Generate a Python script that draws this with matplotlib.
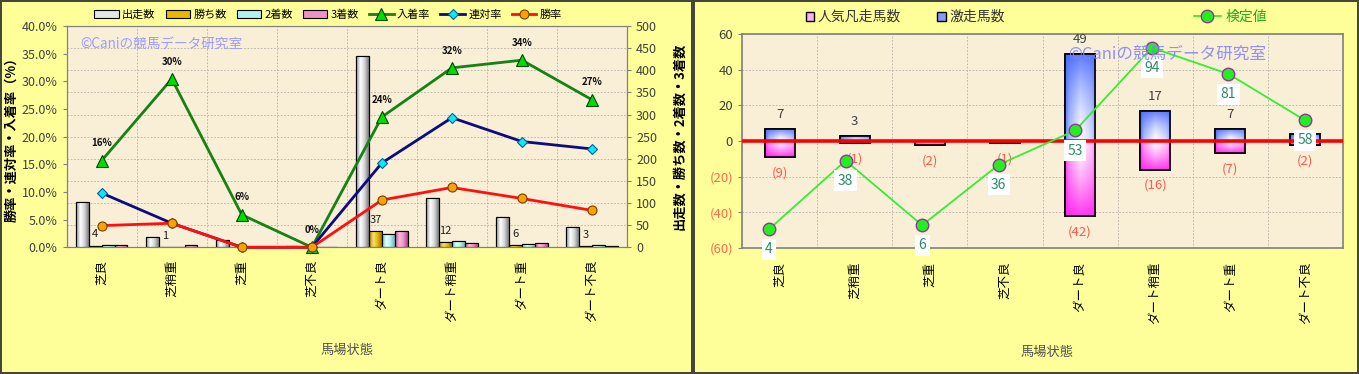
import numpy as np
import matplotlib
matplotlib.use('Agg')
import matplotlib.pyplot as plt
from matplotlib.colors import LinearSegmentedColormap, to_rgb
from matplotlib.patches import Rectangle, Patch
from matplotlib.ticker import FuncFormatter, MultipleLocator

plt.rcParams['font.family'] = ['Noto Sans CJK JP', 'DejaVu Sans']

# データ
categories = ['芝良', '芝稍重', '芝重', '芝不良', 'ダート良', 'ダート稍重', 'ダート重', 'ダート不良']
runs = [102, 23, 17, 2, 433, 111, 68, 45]      # 出走数
wins = [4, 1, 0, 0, 37, 12, 6, 3]              # 勝ち数
seconds = [6, 0, 0, 0, 29, 14, 7, 5]           # 2着数
thirds = [6, 6, 1, 0, 36, 10, 10, 4]           # 3着数

gekisou = [7, 3, 0, 0, 49, 17, 7, 4]           # 激走馬数
bonsou = [9, 1, 2, 1, 42, 16, 7, 2]            # 人気凡走馬数
kentei = [4, 38, 6, 36, 53, 94, 81, 58]        # 検定値

runs_a = np.array(runs, float)
win_rate = np.array(wins) / runs_a
rentai = (np.array(wins) + np.array(seconds)) / runs_a
fuku = (np.array(wins) + np.array(seconds) + np.array(thirds)) / runs_a

W, H = 1359, 374
fig = plt.figure(figsize=(W / 100, H / 100), dpi=100, facecolor='#46463a')


def fx(px):
    return px / W


def fy(py):
    return 1 - py / H


# 背景パネル
for x0, x1 in [(2, 691), (695, 1357)]:
    fig.add_artist(Rectangle((fx(x0), fy(372)), fx(x1 - x0), 370 / H,
                             transform=fig.transFigure, facecolor='#ffff99',
                             edgecolor='none', zorder=-10))

plot_bg = '#f9eed6'
grid_kw = dict(color='#b4b0a8', ls=(0, (2, 2)), lw=0.6)
x = np.arange(len(categories))


def shade(ax, bars, img_fn):
    for b in bars:
        x0, w = b.get_x(), b.get_width()
        y0, h = b.get_y(), b.get_height()
        if h == 0:
            continue
        lo, hi = min(y0, y0 + h), max(y0, y0 + h)
        im = ax.imshow(img_fn(h > 0), extent=[x0, x0 + w, lo, hi], origin='lower',
                       aspect='auto', interpolation='bilinear',
                       zorder=b.get_zorder() + 0.05)
        im.set_clip_path(b)


def hgrad(colors):
    cmap = LinearSegmentedColormap.from_list('g', colors)
    img = cmap(np.linspace(0, 1, 32))[None, :, :]
    return lambda pos: img


# ---------------- 左グラフ ----------------
axb = fig.add_axes([fx(66.7), fy(247.3), (627 - 66.7) / W, (247.3 - 26) / H])
axb.set_facecolor(plot_bg)
bw = 0.183
bar_series = [
    (runs, '#e4e4e4', ['#8c8c8c', '#ffffff', '#d4d4d4', '#7c7c7c'], '出走数'),
    (wins, '#e8b800', ['#a07c00', '#ffe070', '#e8b800', '#987400'], '勝ち数'),
    (seconds, '#b4f0f0', ['#78c0c0', '#eaffff', '#b4f0f0', '#6cb4b4'], '2着数'),
    (thirds, '#f090c8', ['#b85088', '#ffc0e4', '#f090c8', '#a84880'], '3着数'),
]
handles = []
for k, (vals, fc, grad, lab) in enumerate(bar_series):
    pos = x + (k - 1.5) * bw
    bars = axb.bar(pos, vals, bw, color=fc, edgecolor='black', lw=0.8, zorder=2, label=lab)
    shade(axb, bars, hgrad(grad))
    axb.bar(pos, vals, bw, fill=False, edgecolor='black', lw=0.8, zorder=2.2)
    handles.append(bars)

for i, v in enumerate(wins):
    if v > 0:
        axb.annotate(str(v), (x[i] - 0.5 * bw, v), xytext=(0, 8), textcoords='offset points',
                     ha='center', va='center', fontsize=8, color='#202020', zorder=5)

axb.set_xlim(-0.5, 7.5)
axb.set_ylim(0, 500)
axb.yaxis.set_major_locator(MultipleLocator(50))
axb.set_xticks(x)
axb.set_xticklabels(categories, rotation=90, fontsize=9)
axb.set_xticks(np.arange(-0.5, 8, 1), minor=True)
axb.tick_params(axis='x', which='both', length=0, pad=9)
axb.grid(axis='y', **grid_kw)
axb.grid(axis='x', which='minor', **grid_kw)
axb.set_axisbelow(True)

axl = axb.twinx()
axb.yaxis.tick_right()
axb.yaxis.set_label_position('right')
axl.yaxis.tick_left()
axl.yaxis.set_label_position('left')
axl.set_ylim(0, 0.40)
axl.yaxis.set_major_locator(MultipleLocator(0.05))
axl.yaxis.set_major_formatter(FuncFormatter(lambda v, p: f'{v * 100:.1f}%'))

lf = axl.plot(x, fuku, color='#148214', lw=2, marker='^', ms=8, mfc='#00dd00',
              mec='#004400', mew=0.8, label='入着率', clip_on=False, zorder=4)
lr = axl.plot(x, rentai, color='#0c0c80', lw=2, marker='D', ms=5, mfc='#10e8f0',
              mec='#0060a0', mew=0.8, label='連対率', clip_on=False, zorder=4)
lw_ = axl.plot(x, win_rate, color='#ff1010', lw=2, marker='o', ms=6.5, mfc='#ffa000',
               mec='#704000', mew=0.8, label='勝率', clip_on=False, zorder=4)
for i, v in enumerate(fuku):
    axl.annotate(f'{v * 100:.0f}%', (x[i], v), xytext=(0, 12.5), textcoords='offset points',
                 ha='center', va='center', fontsize=7, fontweight='bold', color='#101010')

for a in (axb, axl):
    for s in a.spines.values():
        s.set_color('#808080')
    a.tick_params(axis='y', labelsize=9, labelcolor='#404040', color='#808080', length=3)

axl.set_ylabel('勝率・連対率・入着率（%）', fontsize=9.5, fontweight='bold')
axl.yaxis.set_label_coords((18 - 66.7) / 560.3, 0.5)
axb.set_ylabel('出走数・勝ち数・2着数・3着数', fontsize=9.5, fontweight='bold')
axb.yaxis.set_label_coords((672 - 66.7) / 560.3, 0.5)

fig.legend(handles=handles + lf + lr + lw_, loc='center', bbox_to_anchor=(fx(328), fy(15)),
           ncol=7, frameon=False, fontsize=8, handlelength=2.2, handleheight=0.7,
           handletextpad=0.3, columnspacing=0.9, borderaxespad=0)
fig.text(fx(80), fy(44), '©Caniの競馬データ研究室', fontsize=9.8, color='#9c9cff', va='center')
fig.text(fx(347), fy(350), '馬場状態', fontsize=9.5, color='#505050', ha='center', va='center')

# ---------------- 右グラフ ----------------
axr = fig.add_axes([fx(742), fy(248), 601 / W, 214 / H])
axr.set_facecolor(plot_bg)
rw = 0.4

blue = np.array(to_rgb('#3f62ff'))
mag = np.array(to_rgb('#ff22ee'))


def grad2d(positive):
    u = np.linspace(0, 1, 40)[None, :]
    v = np.linspace(0, 1, 60)[:, None]
    th = np.interp(u, [0, 0.12, 0.5, 0.85, 1], [0.85, 0.45, 0.0, 0.25, 0.5])
    if positive:
        tv = 0.85 * v ** 1.5
        base = blue
    else:
        tv = 0.9 * (1 - v) ** 1.3
        base = mag
    t = 1 - (1 - th) * (1 - tv)
    img = (1 - t)[..., None] * np.ones(3) + t[..., None] * base
    return np.clip(img, 0, 1)


pos_bars = axr.bar(x, gekisou, rw, color='#8899ff', edgecolor='black', lw=1.2, zorder=2)
neg_bars = axr.bar(x, -np.array(bonsou), rw, color='#ff99ee', edgecolor='black', lw=1.2, zorder=2)
shade(axr, pos_bars, grad2d)
shade(axr, neg_bars, grad2d)
axr.bar(x, gekisou, rw, fill=False, edgecolor='black', lw=1.2, zorder=2.2)
axr.bar(x, -np.array(bonsou), rw, fill=False, edgecolor='black', lw=1.2, zorder=2.2)
axr.axhline(0, color='#ff0000', lw=2.6, zorder=3)

for i in range(len(categories)):
    if gekisou[i] > 0:
        axr.annotate(str(gekisou[i]), (x[i], gekisou[i]), xytext=(0, 10), textcoords='offset points',
                     ha='center', va='center', fontsize=9.5, color='#404040', zorder=4)
    if bonsou[i] > 0:
        axr.annotate(f'({bonsou[i]})', (x[i], -bonsou[i]), xytext=(0, -11.5), textcoords='offset points',
                     ha='center', va='center', fontsize=9.5, color='#ff5a4a', zorder=4)

axr.set_xlim(-0.5, 7.5)
axr.set_ylim(-60, 60)
axr.yaxis.set_major_locator(MultipleLocator(20))
axr.yaxis.set_major_formatter(FuncFormatter(lambda v, p: f'({abs(int(round(v)))})' if v < 0 else f'{int(round(v))}'))
axr.set_xticks(x)
axr.set_xticklabels(categories, rotation=90, fontsize=9)
axr.set_xticks(np.arange(-0.5, 8, 1), minor=True)
axr.tick_params(axis='x', which='both', length=0, pad=10)
axr.tick_params(axis='y', labelsize=9.5, labelcolor='#404040', color='#808080', length=3)
for t, v in zip(axr.get_yticklabels(), axr.get_yticks()):
    if v < 0:
        t.set_color('#ff6a50')
axr.grid(axis='y', **grid_kw)
axr.grid(axis='x', which='minor', **grid_kw)
axr.set_axisbelow(True)
for s in axr.spines.values():
    s.set_color('#808080')
    s.set_linewidth(1.2)

# 検定値 (第2軸)
axk = fig.add_axes([fx(742), fy(248), 601 / W, 214 / H])
axk.set_xlim(-0.353, 7.496)
axk.set_ylim(-5.3, 100.8)
axk.axis('off')
lk = axk.plot(x, kentei, color='#33ee33', lw=1.3, marker='o', ms=9, mfc='#22ee22',
              mec='#993399', mew=1, clip_on=False, label='検定値', zorder=4)
for i, v in enumerate(kentei):
    axk.annotate(str(v), (x[i], v), xytext=(0, -14.5), textcoords='offset points',
                 ha='center', va='center', fontsize=10, color='#2e8b6a', zorder=5,
                 bbox=dict(boxstyle='square,pad=0.25', facecolor='white', edgecolor='none'),
                 annotation_clip=False)

fig.legend(handles=[Patch(facecolor='#ffb0f0', edgecolor='black'),
                    Patch(facecolor='#8899ff', edgecolor='black')],
           labels=['人気凡走馬数', '激走馬数'], loc='center left',
           bbox_to_anchor=(fx(800), fy(17)), ncol=2, frameon=False, fontsize=10,
           handlelength=0.6, handleheight=0.6, handletextpad=0.3, columnspacing=2.6,
           borderaxespad=0, labelcolor='#333333')
fig.legend(handles=lk, loc='center left', bbox_to_anchor=(fx(1188), fy(17)), frameon=False,
           fontsize=10, handlelength=2.0, handletextpad=0.3, borderaxespad=0,
           labelcolor='#22aa22')

fig.text(fx(1068), fy(54), '©Caniの競馬データ研究室', fontsize=12, color='#7f7fff',
         alpha=0.85, va='center', zorder=10)
fig.text(fx(1047), fy(352), '馬場状態', fontsize=9.5, color='#505050', ha='center', va='center')

fig.savefig('out.png', dpi=100, facecolor=fig.get_facecolor())
